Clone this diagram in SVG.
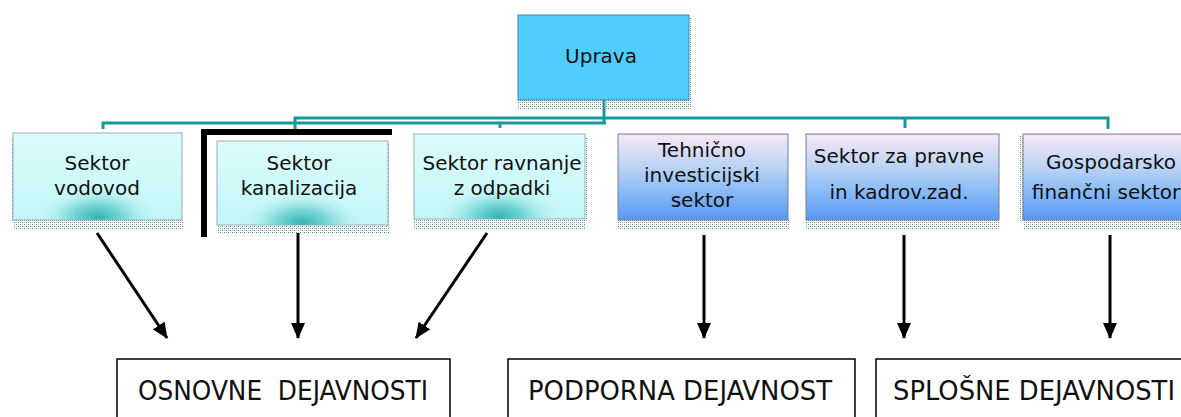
<svg xmlns="http://www.w3.org/2000/svg" width="1181" height="417" viewBox="0 0 1181 417">
<defs>
<style>
.t{font-family:"DejaVu Sans","Liberation Sans",sans-serif;font-size:20px;fill:#111;text-anchor:middle}
.b{font-family:"DejaVu Sans Condensed","DejaVu Sans",sans-serif;font-size:27px;fill:#111;text-anchor:middle;white-space:pre}
.cy{fill:url(#cyan);stroke:#9ab;stroke-width:1}
.gl{fill:url(#glow)}
.bl{fill:url(#blue);stroke:#7a7f8a;stroke-width:1}
.sh{fill:url(#dots)}
.bus{fill:none;stroke:#17999b;stroke-width:3}
.arr{fill:none;stroke:#000;stroke-width:3;marker-end:url(#ah)}
.ob{fill:#fff;stroke:#000;stroke-width:1.5}
</style>
<linearGradient id="cyan" x1="0" y1="0" x2="0" y2="1">
<stop offset="0" stop-color="#dcfcfc"/>
<stop offset="1" stop-color="#c2f6f6"/>
</linearGradient>
<radialGradient id="glow" cx="0.5" cy="0.97" r="0.36">
<stop offset="0" stop-color="#36b2b2" stop-opacity="1"/>
<stop offset="0.4" stop-color="#5ccaca" stop-opacity="0.75"/>
<stop offset="1" stop-color="#c2f6f6" stop-opacity="0"/>
</radialGradient>
<linearGradient id="blue" x1="0" y1="0" x2="0" y2="1">
<stop offset="0" stop-color="#f8e8f6"/>
<stop offset="0.4" stop-color="#b8d2f4"/>
<stop offset="0.65" stop-color="#8cbcf8"/>
<stop offset="1" stop-color="#5a98f2"/>
</linearGradient>
<pattern id="dots" width="4" height="4" patternUnits="userSpaceOnUse">
<rect x="0" y="0" width="1" height="1" fill="#4d8c8c"/>
<rect x="2" y="2" width="1" height="1" fill="#4d8c8c"/>
<rect x="2" y="0" width="1" height="1" fill="#a9c4c4"/>
<rect x="0" y="2" width="1" height="1" fill="#a9c4c4"/>
</pattern>
<marker id="ah" viewBox="0 0 16 14" refX="15" refY="7" markerWidth="16" markerHeight="14" markerUnits="userSpaceOnUse" orient="auto">
<path d="M0,0 L16,7 L0,14 Z" fill="#000"/>
</marker>
</defs>

<g id="connectors">
<path class="bus" d="M604,100 V123"/>
<path class="bus" d="M103,129 V123 H606"/>
<path class="bus" d="M295,129 V118 H1108 V129"/>
<path class="bus" d="M905,118 V128"/>
<path class="bus" d="M500,123 V128"/>
<rect x="201" y="129" width="191" height="6" fill="#000"/>
<rect x="201" y="129" width="6" height="108" fill="#000"/>
<path class="arr" d="M97,233 L167,338"/>
<path class="arr" d="M298,233 V338"/>
<path class="arr" d="M487,233 L416,338"/>
<path class="arr" d="M704,235 V338"/>
<path class="arr" d="M904,235 V338"/>
<path class="arr" d="M1110,235 V338"/>
</g>

<g id="uprava">
<rect class="sh" x="518" y="100" width="174" height="10"/>
<rect class="sh" x="688" y="17" width="3" height="90"/>
<rect x="518" y="15" width="171" height="85" fill="#50ccff" stroke="#3a8aa8" stroke-width="1"/>
<text class="t" x="601" y="63">Uprava</text>
</g>

<g id="vodovod">
<rect class="sh" x="13" y="220" width="170" height="10"/>
<rect class="sh" x="11" y="137" width="3" height="85"/>
<rect class="cy" x="13" y="133" width="169" height="87"/>
<rect class="gl" x="13" y="133" width="169" height="87"/>
<text class="t" x="97" y="170">Sektor</text>
<text class="t" x="97" y="195">vodovod</text>
</g>

<g id="kanalizacija">
<rect class="sh" x="217" y="225" width="172" height="9"/>
<rect class="sh" x="387" y="144" width="3" height="84"/>
<rect class="cy" x="217" y="141" width="171" height="84"/>
<rect class="gl" x="217" y="141" width="171" height="84"/>
<text class="t" x="299" y="170">Sektor</text>
<text class="t" x="299" y="195">kanalizacija</text>
</g>

<g id="ravnanje">
<rect class="sh" x="414" y="219" width="172" height="10"/>
<rect class="sh" x="584" y="137" width="3" height="85"/>
<rect class="cy" x="414" y="134" width="171" height="85"/>
<rect class="gl" x="414" y="134" width="171" height="85"/>
<text class="t" x="502" y="170">Sektor ravnanje</text>
<text class="t" x="502" y="195">z odpadki</text>
</g>

<g id="tehnicno">
<rect class="sh" x="618" y="220" width="172" height="9"/>
<rect class="bl" x="618" y="134" width="170" height="86"/>
<text class="t" x="702" y="157">Tehnično</text>
<text class="t" x="702" y="182">investicijski</text>
<text class="t" x="702" y="207">sektor</text>
</g>

<g id="pravne">
<rect class="sh" x="806" y="220" width="194" height="9"/>
<rect class="sh" x="997" y="136" width="3" height="86"/>
<rect class="bl" x="806" y="134" width="193" height="86"/>
<text class="t" x="899" y="163">Sektor za pravne</text>
<text class="t" x="899" y="199">in kadrov.zad.</text>
</g>

<g id="gospodarsko">
<rect class="sh" x="1023" y="220" width="170" height="9"/>
<rect class="sh" x="1020" y="136" width="3" height="86"/>
<rect class="bl" x="1023" y="134" width="172" height="86"/>
<text class="t" x="1111" y="169">Gospodarsko</text>
<text class="t" x="1106" y="199">finančni sektor</text>
</g>

<g id="osnovne">
<rect class="ob" x="117" y="359" width="333" height="70"/>
<text class="b" x="283" y="400" textLength="290" lengthAdjust="spacingAndGlyphs">OSNOVNE  DEJAVNOSTI</text>
</g>

<g id="podporna">
<rect class="ob" x="508" y="359" width="347" height="70"/>
<text class="b" x="680" y="400" textLength="304" lengthAdjust="spacingAndGlyphs">PODPORNA DEJAVNOST</text>
</g>

<g id="splosne">
<rect class="ob" x="876" y="359" width="310" height="70"/>
<text class="b" x="1034" y="400" textLength="282" lengthAdjust="spacingAndGlyphs">SPLOŠNE DEJAVNOSTI</text>
</g>
</svg>
